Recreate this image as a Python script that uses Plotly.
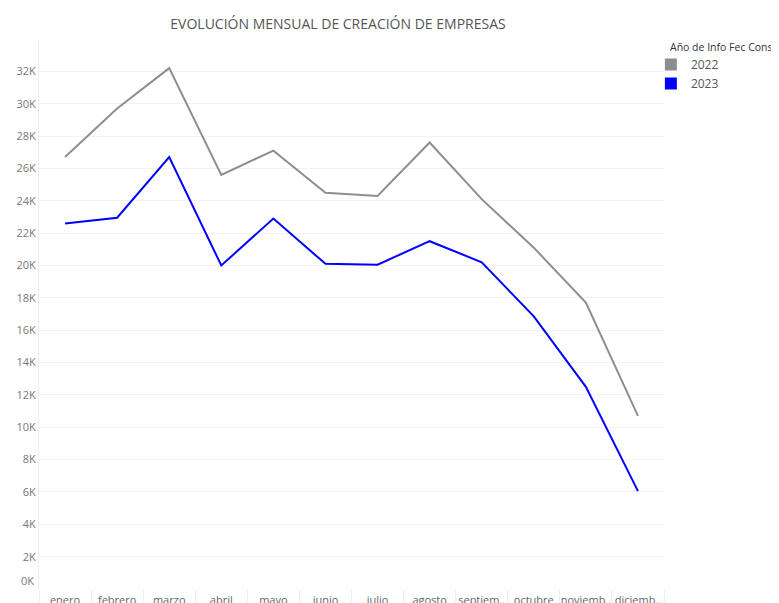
import plotly.graph_objects as go

meses = ["enero", "febrero", "marzo", "abril", "mayo", "junio", "julio",
         "agosto", "septiem..", "octubre", "noviemb..", "diciemb.."]
empresas_2022 = [26700, 29700, 32200, 25600, 27100, 24500, 24300,
                 27600, 24100, 21100, 17700, 10700]
empresas_2023 = [22600, 22950, 26700, 20000, 22900, 20100, 20050,
                 21500, 20200, 16850, 12500, 6050]
y_ticks = list(range(0, 34000, 2000))
y_labels = [str(v // 1000) + "K" for v in y_ticks]

gris = "#8e8e8e"
azul = "#0000ff"

fig = go.Figure()
fig.add_trace(go.Scatter(x=meses, y=empresas_2022, mode="lines", name="2022",
                         line=dict(color=gris, width=2), showlegend=False))
fig.add_trace(go.Scatter(x=meses, y=empresas_2023, mode="lines", name="2023",
                         line=dict(color=azul, width=2), showlegend=False))
# entradas de leyenda con cuadrado, como en el original
for nombre, color in [("2022", gris), ("2023", azul)]:
    fig.add_trace(go.Scatter(x=[None], y=[None], mode="markers", name=nombre,
                             marker=dict(symbol="square", size=10, color=color)))

# el 0K va un poco subido, como en tableau
etiquetas = list(y_labels)
etiquetas[0] = ""

# la pagina tiene 8px de margen en el body, se compensa aqui
fig.update_layout(
    width=779, height=603,
    margin=dict(l=31, r=123, t=31, b=22, autoexpand=False),
    plot_bgcolor="white", paper_bgcolor="white",
    font=dict(family="Open Sans", size=11, color="#666666"),
    title=dict(text="EVOLUCIÓN MENSUAL DE CREACIÓN DE EMPRESAS",
               x=330 / 779, xanchor="center", y=1 - 16 / 603, yanchor="middle",
               font=dict(size=14, color="#555555")),
    legend=dict(x=0.979, xanchor="left", y=0.98, yanchor="top",
                font=dict(size=12, color="#555555"),
                itemwidth=30, itemsizing="constant", tracegroupgap=0,
                bgcolor="rgba(0,0,0,0)"),
    annotations=[
        dict(text="Año de Info Fec Cons", xref="paper", yref="paper",
             x=1.0112, xanchor="left", xshift=-3, y=0.9855, yanchor="middle",
             showarrow=False, font=dict(family="Open Sans", size=10.5, color="#333333")),
        dict(text=y_labels[0], xref="paper", yref="y", x=0, xanchor="right",
             xshift=-3, y=y_ticks[0], yshift=9, yanchor="middle",
             showarrow=False, font=dict(size=11, color="#777777")),
    ],
)
fig.update_xaxes(
    range=[-0.5, 11.5], automargin=False, tickangle=0,
    showgrid=False, showline=False, zeroline=False,
    tickson="boundaries", ticks="outside", ticklen=14, tickcolor="#eeeeee",
    ticklabelstandoff=3,
    tickfont=dict(size=11, color="#666666"),
)
fig.update_yaxes(
    range=[0, 34000], tickvals=y_ticks, ticktext=etiquetas, automargin=False,
    showgrid=True, gridcolor="#f2f2f2", gridwidth=1,
    zeroline=False, showline=True, linecolor="#eeeeee",
    ticks="", tickfont=dict(size=11, color="#777777"),
)

fig.write_html("out.html")
